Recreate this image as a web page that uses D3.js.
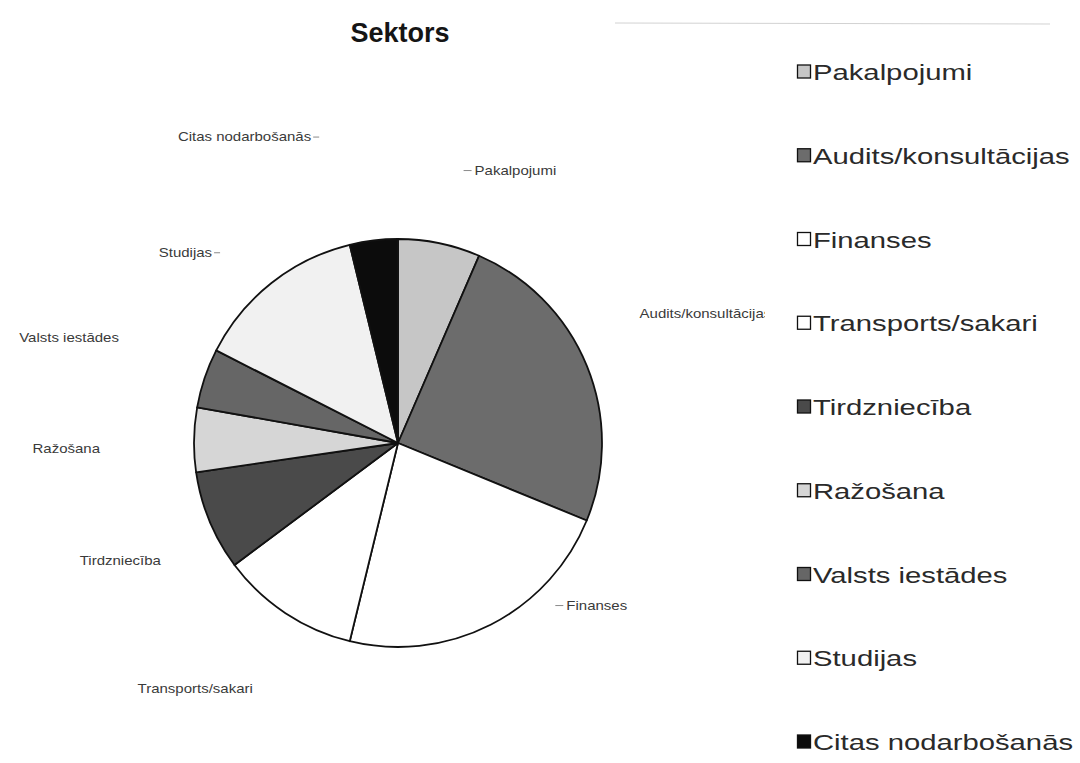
<!DOCTYPE html>
<html>
<head>
<meta charset="utf-8">
<script src="https://cdn.jsdelivr.net/npm/d3@7"></script>
<style>
  body { margin: 0; background: #ffffff; }
  text { font-family: "Liberation Sans", Arial, sans-serif; }
</style>
</head>
<body>
<svg id="chart" width="1080" height="763"></svg>
<script>
// Sector breakdown (percent of respondents)
const categories = [
  "Pakalpojumi",
  "Audits/konsultācijas",
  "Finanses",
  "Transports/sakari",
  "Tirdzniecība",
  "Ražošana",
  "Valsts iestādes",
  "Studijas",
  "Citas nodarbošanās"
];
const shares = [6.5, 24.7, 22.6, 11.0, 7.9, 5.1, 4.7, 13.7, 3.8];
const chartTitle = "Sektors";

// Greyscale fills, one per sector
const sliceFills = ["#c6c6c6", "#6c6c6c", "#ffffff", "#ffffff", "#4a4a4a",
                    "#d6d6d6", "#666666", "#f1f1f1", "#0c0c0c"];

// Outside label placement: radius (px), angular nudge from slice middle (deg), anchor, leader side
const labelLayout = [
  { r: 283, da: 4,   anchor: "start",  lead: "left"  },
  { r: 274, da: -6,  anchor: "start",  lead: null    },
  { r: 234, da: -19, anchor: "start",  lead: "left"  },
  { r: 319, da: 6,   anchor: "middle", lead: null    },
  { r: 265, da: -4,  anchor: "end",    lead: null    },
  { r: 298, da: -2,  anchor: "end",    lead: null    },
  { r: 298, da: 2,   anchor: "end",    lead: null    },
  { r: 266, da: -6,  anchor: "end",    lead: "right" },
  { r: 318, da: -9,  anchor: "end",    lead: "right" }
];

const svg = d3.select("#chart");
const cx = 398, cy = 443, radius = 204;
const labelStretch = 1.2, legendStretch = 1.36;

// faint rule across the top right
svg.append("line")
  .attr("x1", 615).attr("x2", 1050).attr("y1", 23).attr("y2", 24)
  .attr("stroke", "#d2d2d2").attr("stroke-width", 1);

// title
svg.append("text")
  .attr("x", 400).attr("y", 42)
  .attr("text-anchor", "middle")
  .attr("font-size", 27).attr("font-weight", "bold")
  .attr("fill", "#151515")
  .text(chartTitle);

// clip so labels stop before the legend column
svg.append("defs").append("clipPath").attr("id", "plotClip")
  .append("rect").attr("x", 0).attr("y", 60).attr("width", 765).attr("height", 700);

const rows = categories.map((c, i) => ({ name: c, value: shares[i], fill: sliceFills[i], layout: labelLayout[i] }));

const pie = d3.pie().sort(null).value(d => d.value);
const arc = d3.arc().innerRadius(0).outerRadius(radius);
const arcs = pie(rows);

const plot = svg.append("g").attr("clip-path", "url(#plotClip)");
const pieG = plot.append("g").attr("transform", `translate(${cx},${cy})`);

pieG.selectAll("path.slice")
  .data(arcs)
  .join("path")
  .attr("class", "slice")
  .attr("d", arc)
  .attr("fill", d => d.data.fill)
  .attr("stroke", "#111")
  .attr("stroke-width", 1.8)
  .attr("stroke-linejoin", "round");

// outside labels
const labelG = pieG.append("g");
arcs.forEach(d => {
  const L = d.data.layout;
  const a = (d.startAngle + d.endAngle) / 2 + L.da * Math.PI / 180;
  const x = Math.sin(a) * L.r;
  const y = -Math.cos(a) * L.r;
  labelG.append("text")
    .attr("transform", `translate(${x},${y + 4}) scale(${labelStretch},1)`)
    .attr("text-anchor", L.anchor)
    .attr("font-size", 12.5)
    .attr("fill", "#3a3a3a")
    .text(d.data.name);
  if (L.lead === "left") {
    labelG.append("line")
      .attr("x1", x - 11).attr("x2", x - 3)
      .attr("y1", y).attr("y2", y)
      .attr("stroke", "#8a8a8a").attr("stroke-width", 1);
  } else if (L.lead === "right") {
    labelG.append("line")
      .attr("x1", x + 2).attr("x2", x + 8)
      .attr("y1", y).attr("y2", y)
      .attr("stroke", "#8a8a8a").attr("stroke-width", 1);
  }
});

// legend
const legendY = d3.scalePoint().domain(categories).range([72, 742]);
const legend = svg.append("g");
const item = legend.selectAll("g.item")
  .data(rows)
  .join("g")
  .attr("class", "item")
  .attr("transform", d => `translate(797,${legendY(d.name)})`);

item.append("rect")
  .attr("x", 0.5).attr("y", -7)
  .attr("width", 13).attr("height", 13)
  .attr("fill", d => d.fill)
  .attr("stroke", "#111").attr("stroke-width", 1.3);

item.append("text")
  .attr("transform", `translate(16,8) scale(${legendStretch},1)`)
  .attr("font-size", 21.5)
  .attr("fill", "#2a2a2a")
  .text(d => d.name);
</script>
</body>
</html>
